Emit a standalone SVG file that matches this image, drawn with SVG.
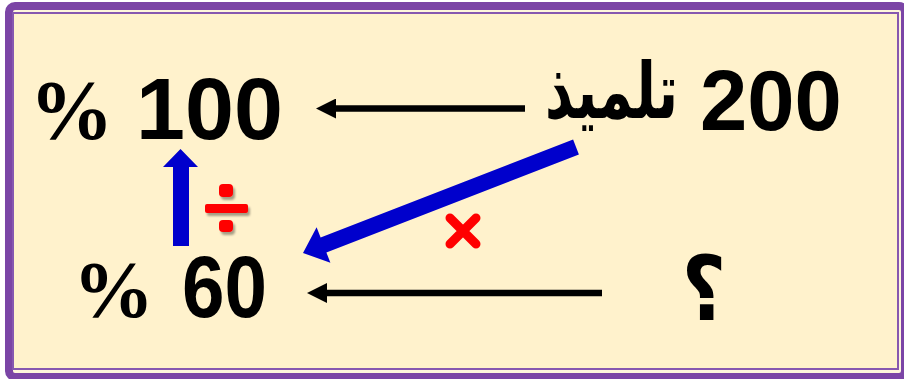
<svg xmlns="http://www.w3.org/2000/svg" width="904" height="379" viewBox="0 0 904 379">
<style>
.num{font-family:"Liberation Sans",Arial,sans-serif;font-weight:bold;fill:#000}
.pct{font-family:"Liberation Serif","Times New Roman",serif;font-weight:bold;fill:#000}
.ar{font-family:"DejaVu Sans","Noto Sans",sans-serif;font-weight:bold;fill:#000}
.blk{stroke:#000;stroke-width:6.5;fill:none}
.blue{fill:#0000CC}
.red{fill:#FF0000}
</style>
<defs>
<marker id="ah" markerUnits="userSpaceOnUse" markerWidth="20" markerHeight="20" refX="6" refY="10" orient="auto">
<path d="M0,0 L20,10 L0,20 Z" fill="#000"/>
</marker>
<filter id="sh" x="-30%" y="-30%" width="160%" height="160%">
<feGaussianBlur in="SourceAlpha" stdDeviation="1.2"/>
<feOffset dx="2" dy="3" result="b"/>
<feFlood flood-color="#000" flood-opacity="0.35"/>
<feComposite in2="b" operator="in"/>
<feMerge><feMergeNode/><feMergeNode in="SourceGraphic"/></feMerge>
</filter>
</defs>
<rect width="904" height="379" fill="#FFFFFF"/>
<g id="frame">
<rect x="9" y="6" width="896" height="371" rx="6" fill="#FEF6DC" stroke="#7B45A6" stroke-width="8"/>
<rect x="13" y="13" width="885" height="356" fill="#FFF2CC" stroke="#8758B0" stroke-width="2"/>
</g>
<g id="n100">
<text class="pct" x="71.5" y="139" font-size="84" text-anchor="middle">%</text>
<text class="num" x="136" y="139" font-size="88">100</text>
</g>
<g id="n200">
<text class="num" x="700" y="130" font-size="85">200</text>
<text class="ar" transform="translate(611.5,118) scale(0.7,1)" x="0" y="0" font-size="78" text-anchor="middle">تلميذ</text>
</g>
<g id="n60">
<text class="pct" x="113.5" y="317" font-size="81" text-anchor="middle">%</text>
<text class="num" x="182" y="317" font-size="88" textLength="85" lengthAdjust="spacingAndGlyphs">60</text>
</g>
<g id="nq">
<text class="ar" transform="translate(704,320) scale(0.85,1)" x="0" y="0" font-size="90" text-anchor="middle" fill="#111">؟</text>
</g>
<g id="connectors">
<line class="blk" x1="525" y1="108.5" x2="330" y2="108.5" marker-end="url(#ah)"/>
<line class="blk" x1="602" y1="293" x2="321" y2="293" marker-end="url(#ah)"/>
<polygon class="blue" points="173,246 189,246 189,167 198,167 180.5,149 163,167 173,167"/>
<polygon class="blue" points="573.1,139.5 320.6,237.5 316.6,227.3 303,253 330.4,262.7 326.4,252.5 578.9,154.5"/>
</g>
<g id="div" filter="url(#sh)">
<rect class="red" x="205" y="204" width="43" height="9" rx="2"/>
<rect class="red" x="219" y="184" width="14" height="13" rx="4"/>
<rect class="red" x="219" y="220" width="14" height="12" rx="4"/>
</g>
<g id="mul">
<path d="M450,218 L476,244 M476,218 L450,244" stroke="#FF0000" stroke-width="9" stroke-linecap="round" fill="none"/>
</g>
</svg>
